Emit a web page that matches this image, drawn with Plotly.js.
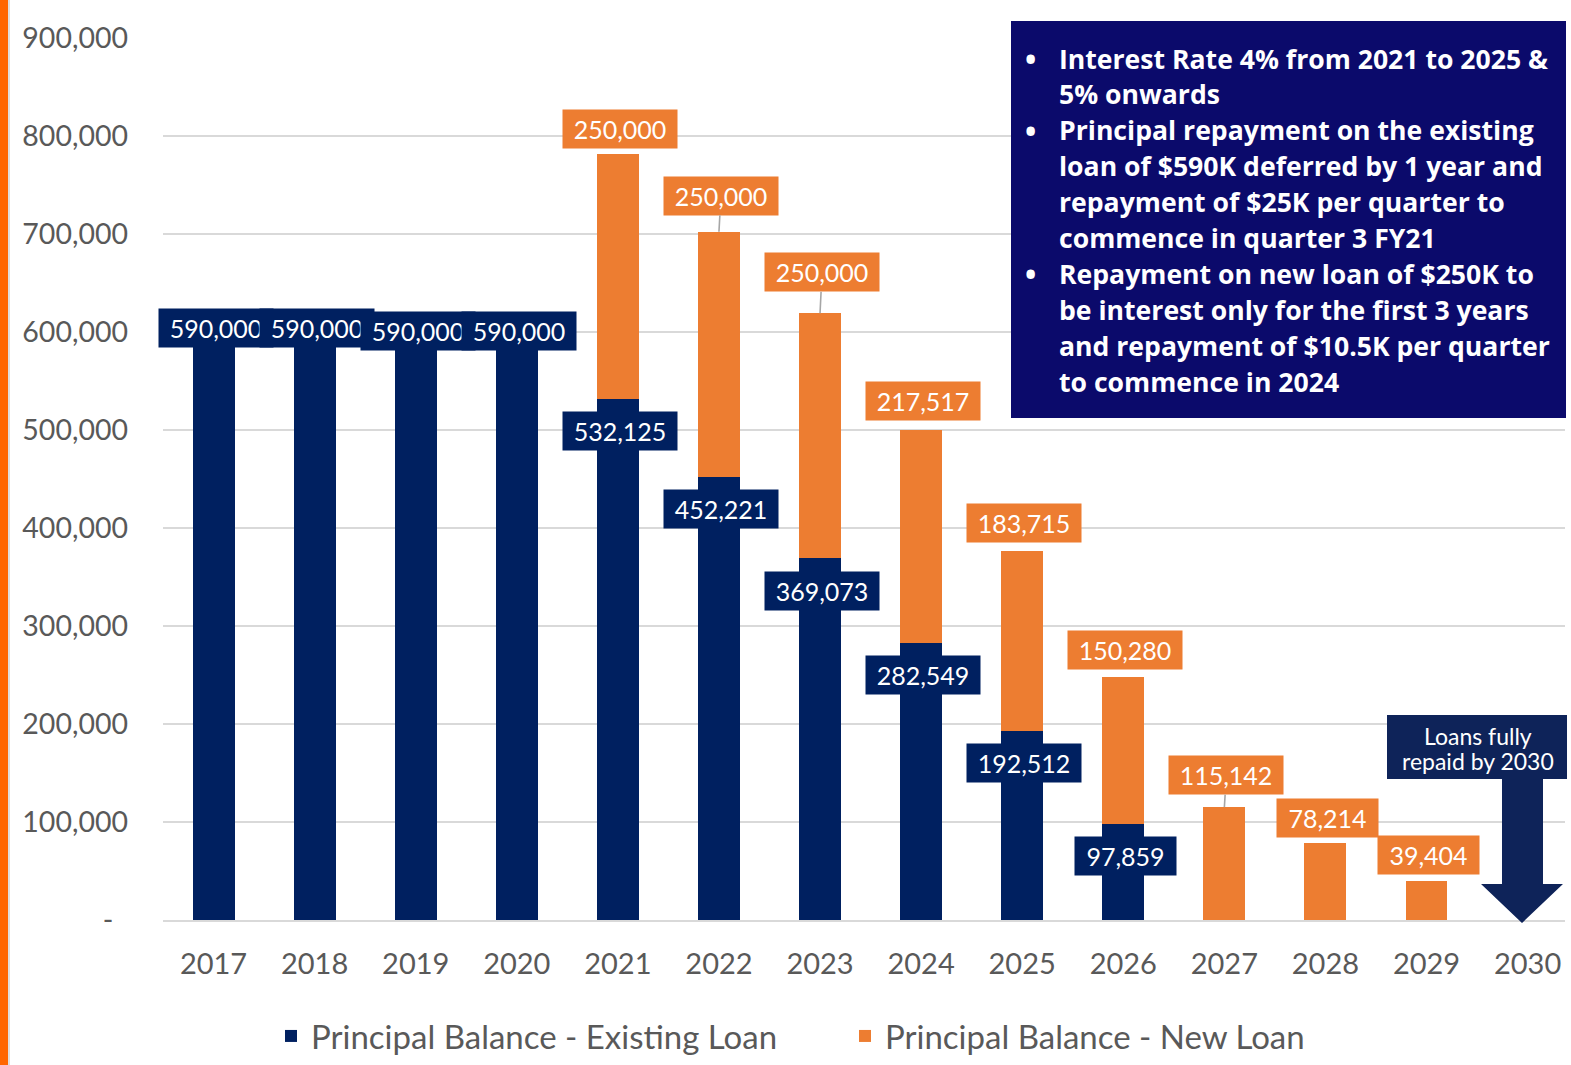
<!DOCTYPE html>
<html>
<head>
<meta charset="utf-8">
<script src="https://cdn.plot.ly/plotly-3.0.1.min.js"></script>
<style>
  html, body { margin: 0; padding: 0; background: #ffffff; }
  #chart { width: 1571px; height: 1065px; }
</style>
</head>
<body>
<div id="chart"></div>
<script>
// ---------- data ----------
const years = ['2017','2018','2019','2020','2021','2022','2023','2024','2025','2026','2027','2028','2029','2030'];
const existingLoan = [590000,590000,590000,590000,532125,452221,369073,282549,192512,97859,0,0,0,0];
const newLoan = [0,0,0,0,250000,250000,250000,217517,183715,150280,115142,78214,39404,0];
const yTickVals = [0,100000,200000,300000,400000,500000,600000,700000,800000,900000];
const yTickText = ['-\u00a0\u00a0','100,000','200,000','300,000','400,000','500,000','600,000','700,000','800,000','900,000'];
const seriesNames = ['Principal Balance - Existing Loan','Principal Balance - New Loan'];
const infoLines = [
  'Interest Rate 4% from 2021 to 2025 &',
  '5% onwards',
  'Principal repayment on the existing',
  'loan of $590K deferred by 1 year and',
  'repayment of $25K per quarter to',
  'commence in quarter 3 FY21',
  'Repayment on new loan of $250K to',
  'be interest only for the first 3 years',
  'and repayment of $10.5K per quarter',
  'to commence in 2024'
];
const infoBullet = [true,false,true,false,false,false,true,false,false,false];
const calloutLines = ['Loans fully','repaid by 2030'];

// ---------- label placement (pixel offsets, styling only) ----------
const existingShift = [14,14,11,11,-32,-32,-33,-32,-32,-32,0,0,0,0];
const newShift = [0,0,0,0,25,36,41,29,28,27,32,25,26,0];
const newConnector = [false,false,false,false,false,true,true,false,false,false,true,false,false,false];

// ---------- styles ----------
const NAVY = '#002060';
const ORANGE = '#ed7d31';
const GRID = '#d9d9d9';
const TXT = '#595959';
const FONT = 'Lato, "DejaVu Sans", sans-serif';

// ---------- geometry helpers (paper coords from pixels) ----------
const L = 163, R = 6, T = 38, B = 145, W = 1571, H = 1065;
const PW = W - L - R, PH = H - T - B;
const px = v => (v - L) / PW;
const py = v => (H - B - v) / PH;
const fmt = n => n.toLocaleString('en-US');
const boxW = s => Math.round(12.5 * s.length + 26);

const traces = [
  {type:'bar', name: seriesNames[0], x: years, y: existingLoan, marker:{color: NAVY, line:{width:0}}, hoverinfo:'skip'},
  {type:'bar', name: seriesNames[1], x: years, y: newLoan, marker:{color: ORANGE, line:{width:0}}, hoverinfo:'skip'}
];

const annotations = [];
years.forEach((yr, i) => {
  if (existingLoan[i] > 0) {
    const t = fmt(existingLoan[i]);
    annotations.push({
      x: i, y: existingLoan[i], xref:'x', yref:'y', text: t, showarrow:false,
      xanchor:'center', yanchor:'middle', yshift: existingShift[i], xshift: 2,
      bgcolor: NAVY, width: boxW(t), height: 38, borderpad: 0,
      font:{family: FONT, size: 25, color:'#ffffff'}
    });
  }
});
years.forEach((yr, i) => {
  if (newLoan[i] > 0) {
    const t = fmt(newLoan[i]);
    const top = existingLoan[i] + newLoan[i];
    const a = {
      x: i, y: top, xref:'x', yref:'y', text: t,
      bgcolor: ORANGE, width: boxW(t), height: 38, borderpad: 0,
      font:{family: FONT, size: 25, color:'#ffffff'}
    };
    if (newConnector[i]) {
      Object.assign(a, {showarrow:true, arrowhead:0, arrowwidth:1.6, arrowcolor:'#a6a6a6',
        ax: 2, ay: -newShift[i], axref:'pixel', ayref:'pixel', standoff:0});
    } else {
      Object.assign(a, {showarrow:false, xanchor:'center', yanchor:'middle', yshift: newShift[i], xshift: 2});
    }
    annotations.push(a);
  }
});

// info box text
infoLines.forEach((line, k) => {
  const yc = 58.5 + 35.9 * k;
  annotations.push({
    xref:'paper', yref:'paper', x: px(1057), y: py(yc), xanchor:'left', yanchor:'middle',
    text: '<b>' + line + '</b>', showarrow:false,
    font:{family:'"Open Sans", "Noto Sans", sans-serif', size:26.6, color:'#ffffff'}
  });
  if (infoBullet[k]) {
    annotations.push({
      xref:'paper', yref:'paper', x: px(1030), y: py(yc), xanchor:'center', yanchor:'middle',
      text: '<b>\u2022</b>', showarrow:false,
      font:{family:'"Open Sans", "Noto Sans", sans-serif', size:30, color:'#ffffff'}
    });
  }
});
// callout text
calloutLines.forEach((line, k) => {
  annotations.push({
    xref:'paper', yref:'paper', x: px(1478), y: py(736 + 25 * k), xanchor:'center', yanchor:'middle',
    text: line, showarrow:false, font:{family: FONT, size:23, color:'#ffffff'}
  });
});

const arrowPts = [[1387,715],[1567,715],[1567,779],[1543,779],[1543,884],[1563,884],[1522,923],[1481,884],[1502,884],[1502,779],[1387,779]];
const arrowPath = 'M' + arrowPts.map(p => px(p[0]).toFixed(5) + ',' + py(p[1]).toFixed(5)).join(' L') + ' Z';

const shapes = [
  {type:'rect', xref:'paper', yref:'paper', x0: px(0), x1: px(8), y0: py(H), y1: py(0), fillcolor:'#ff6600', line:{width:0}, layer:'above'},
  {type:'rect', xref:'paper', yref:'paper', x0: px(8), x1: px(10), y0: py(H), y1: py(0), fillcolor:'#dedede', line:{width:0}, layer:'above'},
  {type:'rect', xref:'paper', yref:'paper', x0: px(1011), x1: px(1566), y0: py(418), y1: py(21), fillcolor:'#0b0a6b', line:{width:0}, layer:'above'},
  {type:'path', xref:'paper', yref:'paper', path: arrowPath, fillcolor:'#0e2359', line:{width:0}, layer:'above'}
];

const layout = {
  width: W, height: H,
  margin: {l: L, r: R, t: T, b: B, pad: 0, autoexpand: false},
  paper_bgcolor:'#ffffff', plot_bgcolor:'#ffffff',
  barmode:'stack', bargap: 0.585,
  showlegend: true,
  legend: {
    orientation:'h', x: px(271), xanchor:'left', y: py(1036), yanchor:'middle',
    traceorder:'normal', entrywidth: 529, entrywidthmode:'pixels',
    font:{family: FONT, size: 33, color: TXT}, bgcolor:'rgba(0,0,0,0)'
  },
  xaxis: {
    type:'category', range:[-0.5, 13.37], fixedrange:true, automargin:false,
    showgrid:false, zeroline:false, showline:true, linecolor: GRID, linewidth: 2,
    ticks:'', ticklabelstandoff: 17,
    tickfont:{family: FONT, size: 29, color: TXT}
  },
  yaxis: {
    range:[0, 900000], fixedrange:true, automargin:false,
    tickvals: yTickVals, ticktext: yTickText,
    showgrid:true, gridcolor: GRID, gridwidth: 2, zeroline:false, showline:false,
    ticks:'', ticklabelstandoff: 34,
    tickfont:{family: FONT, size: 28.5, color: TXT}
  },
  annotations: annotations,
  shapes: shapes
};

Plotly.newPlot('chart', traces, layout, {displayModeBar:false, staticPlot:true});
</script>
</body>
</html>
